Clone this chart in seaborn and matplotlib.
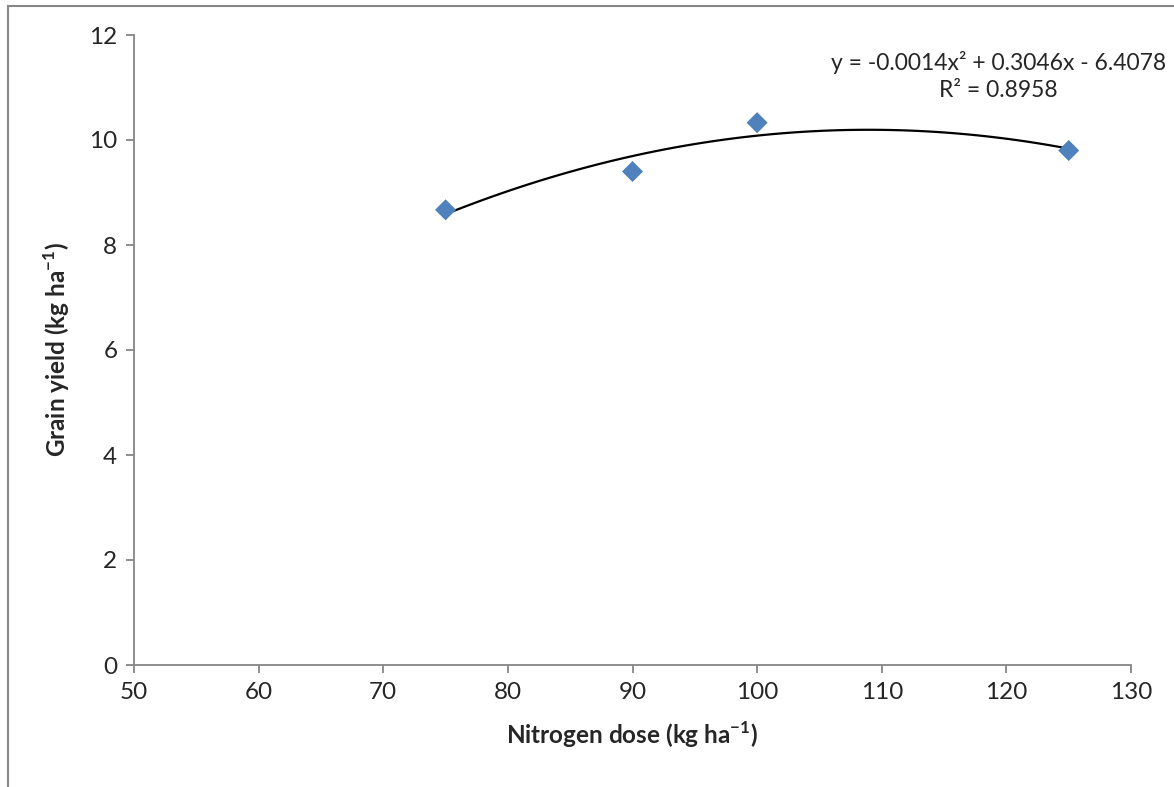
import matplotlib
matplotlib.use("Agg")
import matplotlib.pyplot as plt
from matplotlib.patches import Rectangle
import seaborn as sns
import pandas as pd

# values
nitrogen_dose = [75, 90, 100, 125]
grain_yield = [8.67, 9.40, 10.33, 9.80]
x_ticks = [50, 60, 70, 80, 90, 100, 110, 120, 130]
y_ticks = [0, 2, 4, 6, 8, 10, 12]
equation_text = "y = -0.0014x\u00b2 + 0.3046x - 6.4078\nR\u00b2 = 0.8958"

sns.set_style("white")
plt.rcParams["font.family"] = ["Lato", "DejaVu Sans"]
plt.rcParams["mathtext.fontset"] = "custom"
plt.rcParams["mathtext.rm"] = "Lato"
plt.rcParams["mathtext.bf"] = "Lato:bold"

df = pd.DataFrame({"dose": nitrogen_dose, "yield": grain_yield})

AXIS_GRAY = "#868686"

fig = plt.figure(figsize=(11.74, 7.87), dpi=100)
ax = fig.add_axes([134 / 1174, 122 / 787, 997 / 1174, 630 / 787])

# chart area border (only left/top edges are visible in the reference)
fig.patches.append(Rectangle((8 / 1174, -0.2), 1.5, 1.2 - 6 / 787,
                             transform=fig.transFigure, fill=False,
                             edgecolor=AXIS_GRAY, lw=1.5, clip_on=False))

# quadratic trendline through the data
sns.regplot(data=df, x="dose", y="yield", order=2, ci=None, scatter=False,
            color="black", line_kws={"lw": 1.6}, ax=ax)
sns.scatterplot(data=df, x="dose", y="yield", marker="D", s=115,
                color="#4F81BD", edgecolor="none", zorder=3, ax=ax)

ax.set_xlim(50, 130)
ax.set_ylim(0, 12)
ax.set_xticks(x_ticks)
ax.set_yticks(y_ticks)
ax.tick_params(axis="both", which="both", direction="out", length=6, width=1.3,
               color=AXIS_GRAY, labelsize=17.5, pad=6, left=True, bottom=True)

sns.despine(ax=ax)
for side in ("left", "bottom"):
    ax.spines[side].set_color(AXIS_GRAY)
    ax.spines[side].set_linewidth(1.3)

ax.set_xlabel(r"Nitrogen dose (kg ha$^{\mathbf{-1}}$)", fontsize=17.5,
              fontweight="bold", labelpad=12)
ax.set_ylabel(r"Grain yield (kg ha$^{\mathbf{-1}}$)", fontsize=17.5,
              fontweight="bold", labelpad=12)

# trendline equation, kept inside the right edge
fig.text(1166 / 1174, 1 - 76 / 787, equation_text, ha="right", va="center",
         fontsize=16.5, multialignment="center", linespacing=1.3)

fig.savefig("out.png", dpi=100)
